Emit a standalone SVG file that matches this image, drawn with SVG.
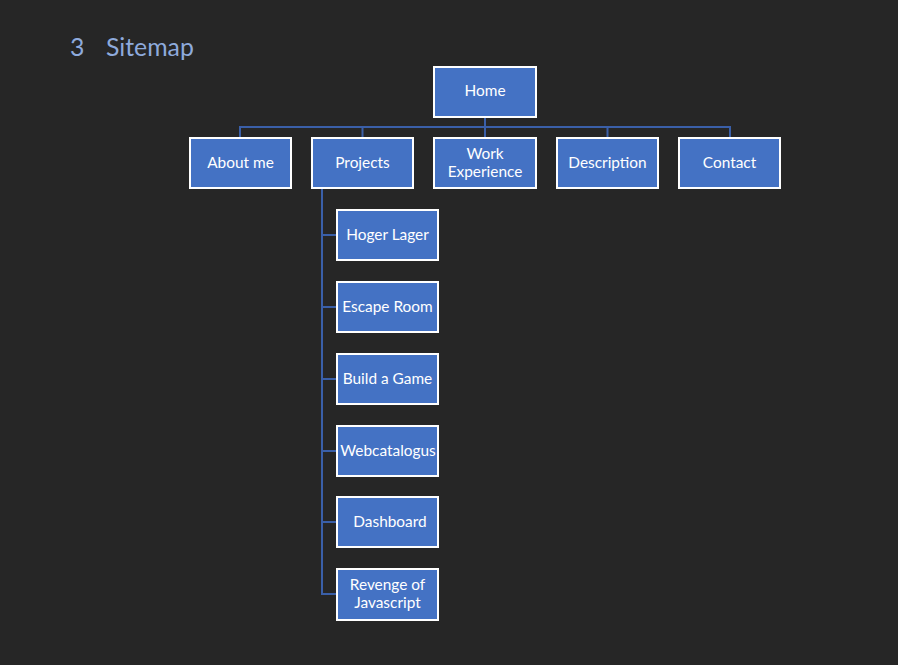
<svg xmlns="http://www.w3.org/2000/svg" width="898" height="665" viewBox="0 0 898 665">
<style>
.box{fill:#4472c4;stroke:#ffffff;stroke-width:2}
.lbl{font-family:Lato,"Open Sans","Liberation Sans",sans-serif;font-size:15.4px;fill:#ffffff;text-anchor:middle}
.con{fill:none;stroke:#3a5fa8;stroke-width:2}
.title{font-family:Lato,"Liberation Sans",sans-serif;font-size:24.8px;fill:#8eaadc}
</style>
<rect width="898" height="665" fill="#262626"/>
<text class="title" x="70" y="56">3</text>
<text class="title" x="106" y="56">Sitemap</text>
<g id="connectors">
<path class="con" d="M485 117 V137 M240 137 V127 H730 V137 M362.5 127 V137 M607.5 127 V137"/>
<path class="con" d="M322 189 V594 H337 M322 235 H337 M322 307 H337 M322 379 H337 M322 451 H337 M322 522 H337"/>
</g>
<g id="home"><rect class="box" x="434" y="67" width="102" height="50"/><text class="lbl" x="485" y="96">Home</text></g>
<g id="about"><rect class="box" x="190" y="138" width="101" height="50"/><text class="lbl" x="240.5" y="168">About me</text></g>
<g id="projects"><rect class="box" x="312" y="138" width="101" height="50"/><text class="lbl" x="362.5" y="168">Projects</text></g>
<g id="work"><rect class="box" x="434" y="138" width="102" height="50"/><text class="lbl" x="485" y="159">Work</text><text class="lbl" x="485" y="177">Experience</text></g>
<g id="description"><rect class="box" x="557" y="138" width="101" height="50"/><text class="lbl" x="607.5" y="168">Description</text></g>
<g id="contact"><rect class="box" x="679" y="138" width="101" height="50"/><text class="lbl" x="729.5" y="168">Contact</text></g>
<g id="hoger"><rect class="box" x="337" y="210" width="101" height="50"/><text class="lbl" x="387.5" y="240">Hoger Lager</text></g>
<g id="escape"><rect class="box" x="337" y="282" width="101" height="50"/><text class="lbl" x="387.5" y="312">Escape Room</text></g>
<g id="build"><rect class="box" x="337" y="354" width="101" height="50"/><text class="lbl" x="387.5" y="384">Build a Game</text></g>
<g id="webcat"><rect class="box" x="337" y="426" width="101" height="50"/><text class="lbl" x="388" y="456">Webcatalogus</text></g>
<g id="dashboard"><rect class="box" x="337" y="497" width="101" height="50"/><text class="lbl" x="390" y="527">Dashboard</text></g>
<g id="revenge"><rect class="box" x="337" y="569" width="101" height="51"/><text class="lbl" x="387.5" y="590">Revenge of</text><text class="lbl" x="387.5" y="608">Javascript</text></g>
</svg>
